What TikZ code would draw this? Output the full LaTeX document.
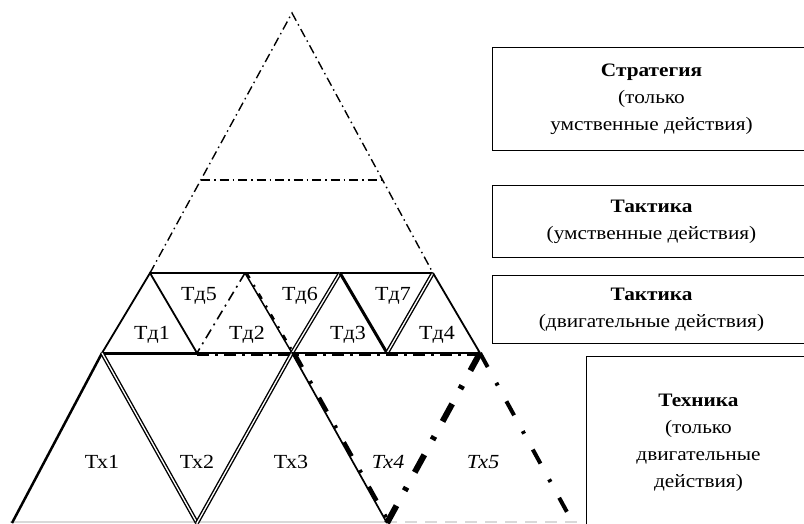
\documentclass[tikz,border=0pt]{standalone}
\usepackage{fontspec}
\setmainfont{Liberation Serif}
\newfontfamily\boxfont[FakeStretch=1.12]{Liberation Serif}
\newfontfamily\lblfont[FakeStretch=1.1]{Liberation Serif}
\begin{document}
\begin{tikzpicture}[x=1pt,y=-1pt,
  edge/.style={line width=1.8pt},
  thickedge/.style={line width=3pt},
  dbl/.style={double, line width=1.4pt, double distance=1.3pt},
  ddthin/.style={line width=1.4pt, dash pattern=on 9pt off 4pt on 1.5pt off 4pt},
  ddmid/.style={line width=1.6pt, dash pattern=on 10pt off 5pt on 2pt off 5pt},
  ddover/.style={line width=3.5pt, dash pattern=on 16pt off 16pt on 3pt off 16pt},
  ddheavy/.style={line width=6pt, dash pattern=on 20pt off 17pt on 4pt off 17pt},
  ddbig/.style={line width=4pt, dash pattern=on 16pt off 18pt on 3pt off 18pt},
  lbl/.style={font=\lblfont\fontsize{20}{22}\selectfont, inner sep=0pt},
  box/.style={draw, line width=1pt, anchor=north west, align=center, inner sep=0pt,
    font=\boxfont\fontsize{19}{27}\selectfont}
]
\useasboundingbox (0,0) rectangle (804,523);
% named points
\coordinate (O) at (292,13);
\coordinate (SL) at (201,180);
\coordinate (SR) at (383,180);
\coordinate (t1) at (150,273);
\coordinate (t2) at (245,273);
\coordinate (t3) at (340,273);
\coordinate (t4) at (433,273);
\coordinate (b0) at (102,353);
\coordinate (b1) at (197,353);
\coordinate (b2) at (292,353);
\coordinate (b3) at (387,353);
\coordinate (b4) at (480,353);
\coordinate (c0) at (12,523);
\coordinate (c1) at (197,523);
\coordinate (c2) at (387,523);
\coordinate (c3) at (573,523);
\coordinate (g0) at (10,522);
\coordinate (g1) at (385,522);
\coordinate (g2) at (580,522);

% bottom grey cut line
\draw[gray!30, line width=1.5pt] (g0) -- (g1);
\draw[gray!30, line width=1.5pt, dash pattern=on 12pt off 8pt] (g1) -- (g2);

% strategy / tactic (mental) outer triangle
\draw[ddthin] (t1) -- (O) -- (t4);
\draw[ddthin] (SL) -- (SR);

% middle row
\draw[edge] (t1) -- (t4);
\draw[edge] (b0) -- (t1) -- (b1);
\draw[ddmid] (t2) -- (b1);
\draw[line width=1.5pt] (t2) -- (b2);
\draw[line width=2.5pt, dash pattern=on 6pt off 8pt on 2pt off 8pt, transform canvas={xshift=1.5pt}] (t2) -- (b2);
\draw[dbl] (t3) -- (b2);
\draw[thickedge] (t3) -- (b3);
\draw[dbl] (t4) -- (b3);
\draw[edge] (t4) -- (b4);
\draw[line width=3pt] (b0) -- (b1);
\draw[line width=1.4pt] (b1) -- (b4);
\draw[line width=3pt, dash pattern=on 12pt off 6pt on 3pt off 6pt, transform canvas={yshift=-1.5pt}] (b1) -- (b4);

% bottom row
\draw[line width=2.5pt] (b0) -- (c0);
\draw[dbl] (b0) -- (c1);
\draw[dbl] (b2) -- (c1);
\draw[line width=1.7pt] (b2) -- (c2);
\draw[ddover, transform canvas={xshift=2.5pt}] (b2) -- (c2);
\draw[ddheavy] (b4) -- (c2);
\draw[ddbig] (b4) -- (c3);

% labels
\node[lbl] (d1) at (152,335) {Тд1};
\node[lbl] (d5) at (199,296) {Тд5};
\node[lbl] (d2) at (247,335) {Тд2};
\node[lbl] (d6) at (300,296) {Тд6};
\node[lbl] (d3) at (348,335) {Тд3};
\node[lbl] (d7) at (393,296) {Тд7};
\node[lbl] (d4) at (437,335) {Тд4};
\node[lbl] (x1) at (102,462) {Тх1};
\node[lbl] (x2) at (197,462) {Тх2};
\node[lbl] (x3) at (291,462) {Тх3};
\node[lbl] (x4) at (388,462) {\itshape Тх4};
\node[lbl] (x5) at (483,462) {\itshape Тх5};

% boxes
\node[box, minimum width=318pt, minimum height=103pt] (k1) at (492,47)
  {\textbf{Стратегия}\\(только\\умственные действия)};
\node[box, minimum width=318pt, minimum height=72pt] (k2) at (492,185)
  {\textbf{Тактика}\\(умственные действия)};
\node[box, minimum width=318pt, minimum height=68pt] (k3) at (492,275)
  {\textbf{Тактика}\\(двигательные действия)};
\node[box, minimum width=224pt, minimum height=172pt] (k4) at (586,356)
  {\textbf{Техника}\\(только\\двигательные\\действия)};
\end{tikzpicture}
\end{document}
